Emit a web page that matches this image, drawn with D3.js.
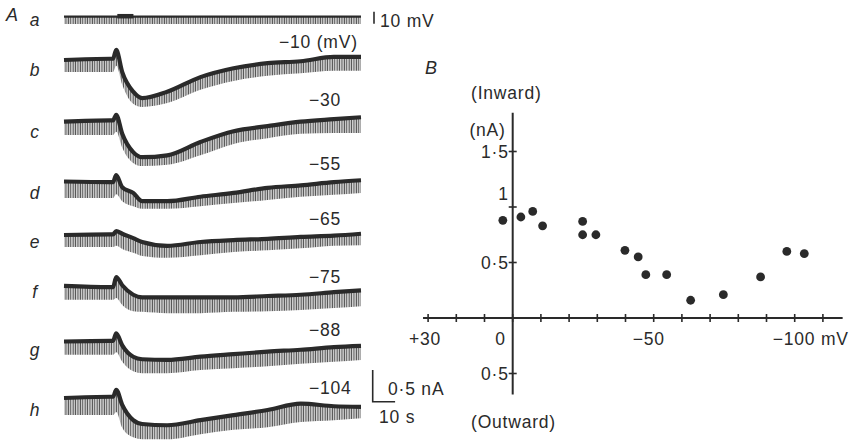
<!DOCTYPE html>
<html>
<head>
<meta charset="utf-8">
<script src="https://cdn.jsdelivr.net/npm/d3@7"></script>
<style>
  body { margin: 0; background: #fff; }
  svg text { font-family: "Liberation Sans", Arial, sans-serif; fill: #2a2a2a; letter-spacing: 0.8px; }
</style>
</head>
<body>
<div id="graphicContainer"></div>
<script>

// ---- panel A data (time in s, holding current in nA, inward = positive / downwards)

var times = [0, 20.6, 21.9, 23.3, 26.0, 30.9, 34.9, 46.1, 60.9, 75.7, 90.9, 105.7, 120.5, 132.6];

// line = holding current trace, base = bottom of the pulse responses
var traceB = {line: [0, -0.02, -0.02, -0.16, 0.19, 0.50, 0.60, 0.50, 0.27, 0.13, 0.05, 0.02, -0.05, -0.05],
              base: [0.19, 0.19, 0.19, 0.09, 0.39, 0.69, 0.74, 0.68, 0.47, 0.33, 0.25, 0.21, 0.17, 0.17]};
var traceC = {line: [0, -0.02, -0.02, -0.11, 0.19, 0.48, 0.56, 0.53, 0.32, 0.15, 0.07, 0.00, -0.04, -0.07],
              base: [0.21, 0.21, 0.21, 0.16, 0.41, 0.65, 0.70, 0.68, 0.53, 0.35, 0.26, 0.19, 0.18, 0.18]};
var traceD = {line: [0, 0.01, 0.01, -0.10, 0.09, 0.18, 0.31, 0.31, 0.24, 0.18, 0.10, 0.06, 0.01, -0.02],
              base: [0.26, 0.26, 0.26, 0.20, 0.31, 0.39, 0.43, 0.43, 0.39, 0.34, 0.29, 0.24, 0.21, 0.18]};
var traceE = {line: [0, -0.01, -0.01, -0.06, -0.02, 0.05, 0.11, 0.17, 0.11, 0.08, 0.06, 0.03, 0.01, -0.02],
              base: [0.19, 0.19, 0.19, 0.17, 0.22, 0.28, 0.33, 0.36, 0.32, 0.27, 0.24, 0.21, 0.17, 0.16]};
var traceF = {line: [-0.01, 0.01, 0.01, -0.15, -0.02, 0.13, 0.17, 0.17, 0.17, 0.17, 0.15, 0.13, 0.09, 0.06],
              base: [0.21, 0.21, 0.21, 0.18, 0.29, 0.39, 0.40, 0.42, 0.42, 0.40, 0.39, 0.37, 0.34, 0.31]};
var traceG = {line: [0, -0.01, -0.01, -0.13, 0.06, 0.24, 0.28, 0.29, 0.24, 0.20, 0.16, 0.13, 0.09, 0.07],
              base: [0.21, 0.21, 0.21, 0.17, 0.32, 0.47, 0.50, 0.50, 0.45, 0.42, 0.39, 0.35, 0.32, 0.29]};
var traceH = {line: [0, -0.02, -0.02, -0.13, 0.11, 0.35, 0.41, 0.43, 0.35, 0.27, 0.19, 0.09, 0.13, 0.14],
              base: [0.27, 0.27, 0.27, 0.22, 0.47, 0.62, 0.65, 0.65, 0.57, 0.50, 0.46, 0.38, 0.35, 0.32]};

// trace a is the voltage record (mV): hyperpolarising pulses, agonist mark
var voltTimes = [0, 132.6];
var voltLine = [0, 0];
var voltPulse = [-6, -6];
var stimulus = [23.8, 31];

var rowNames = ["a", "b", "c", "d", "e", "f", "g", "h"];
var holdingMv = [null, -10, -30, -55, -65, -75, -88, -104];

// ---- panel B data

var vm = [3.5, -2.9, -7.1, -10.6, -24.8, -24.8, -29.5, -39.8, -44.5, -47.2, -54.6, -63.1, -74.7, -87.9, -97.2, -103.4];
var inward = [0.88, 0.91, 0.96, 0.83, 0.87, 0.75, 0.75, 0.61, 0.55, 0.39, 0.39, 0.16, 0.21, 0.37, 0.60, 0.58];

var xTickValues = [30, 20, 10, 0, -10, -20, -30, -40, -50, -60, -70, -80, -90, -100, -110];
var yTickValues = [1.5, 1, 0.5, -0.5];

// ---------------------------------------------------------------

var width = 859, height = 442;
var ink = "#2a2a2a";
var fs = 17.5;

var svg = d3.select("#graphicContainer").append("svg")
	.attr("width", width)
	.attr("height", height);

// pulses drawn as a hatch of thin vertical strokes
var defs = svg.append("defs");
defs.append("pattern")
	.attr("id", "pulses")
	.attr("patternUnits", "userSpaceOnUse")
	.attr("width", 2.4)
	.attr("height", 10)
	.append("rect")
	.attr("x", 0.5)
	.attr("width", 1.3)
	.attr("height", 10)
	.attr("fill", "#4a4a4a");

// ---- panel A

var rowY = [16.7, 60, 121.7, 181.5, 235, 286.5, 341.5, 398];
var rowLabelY = [20, 70, 131.7, 193, 241.7, 291.7, 350, 410];
var mvLabelY = [42, 100, 164, 219, 277, 330, 388];

var xT = d3.scaleLinear().domain([0, 132.6]).range([64, 361]);
var yI = d3.scaleLinear().domain([0, 0.5]).range([0, 31.7]);
var yV = d3.scaleLinear().domain([0, 10]).range([0, -12]);

var traces = [traceB, traceC, traceD, traceE, traceF, traceG, traceH];

var panelA = svg.append("g");

panelA.append("text")
	.attr("x", 6).attr("y", 15)
	.attr("dominant-baseline", "central")
	.attr("font-size", 18)
	.attr("font-style", "italic")
	.text("A");

panelA.selectAll(".rowLabel")
	.data(rowNames)
	.enter()
	.append("text")
	.attr("class", "rowLabel")
	.attr("x", 35)
	.attr("y", (d, i) => rowLabelY[i])
	.attr("text-anchor", "middle")
	.attr("dominant-baseline", "central")
	.attr("font-size", fs)
	.attr("font-style", "italic")
	.text(d => d);

// voltage trace a
var gA = panelA.append("g").attr("transform", `translate(0,${rowY[0]})`);

gA.append("path")
	.datum(voltTimes.map((t, i) => ({t: t, v: voltLine[i], p: voltPulse[i]})))
	.attr("fill", "url(#pulses)")
	.attr("d", d3.area().x(d => xT(d.t)).y0(d => yV(d.v)).y1(d => yV(d.p)));

gA.append("path")
	.datum(voltTimes.map((t, i) => ({t: t, v: voltLine[i]})))
	.attr("fill", "none")
	.attr("stroke", ink)
	.attr("stroke-width", 2.2)
	.attr("d", d3.line().x(d => xT(d.t)).y(d => yV(d.v)));

gA.append("line")
	.attr("x1", xT(stimulus[0])).attr("x2", xT(stimulus[1]))
	.attr("y1", yV(0) - 0.5).attr("y2", yV(0) - 0.5)
	.attr("stroke", ink)
	.attr("stroke-width", 4.5);

// 10 mV bar
gA.append("line")
	.attr("x1", 374).attr("x2", 374)
	.attr("y1", yV(5) + 1).attr("y2", yV(-5) + 1)
	.attr("stroke", ink).attr("stroke-width", 1.6);

gA.append("text")
	.attr("x", 380).attr("y", 4)
	.attr("dominant-baseline", "central")
	.attr("font-size", fs)
	.text("10 mV");

// current traces b-h
var area = d3.area()
	.curve(d3.curveMonotoneX)
	.x(d => xT(d.t))
	.y0(d => yI(d.line))
	.y1(d => yI(d.base));

var line = d3.line()
	.curve(d3.curveMonotoneX)
	.x(d => xT(d.t))
	.y(d => yI(d.line));

traces.forEach(function(tr, k) {
	var pts = times.map((t, i) => ({t: t, line: tr.line[i], base: tr.base[i]}));
	var g = panelA.append("g").attr("transform", `translate(0,${rowY[k + 1]})`);

	g.append("path")
		.datum(pts)
		.attr("fill", "url(#pulses)")
		.attr("d", area);

	g.append("path")
		.datum(pts)
		.attr("fill", "none")
		.attr("stroke", ink)
		.attr("stroke-width", 4.2)
		.attr("stroke-linejoin", "round")
		.attr("d", line);
});

// holding potential labels
panelA.selectAll(".mvLabel")
	.data(holdingMv.slice(1))
	.enter()
	.append("text")
	.attr("class", "mvLabel")
	.attr("x", (d, i) => i == 0 ? 279 : 309)
	.attr("y", (d, i) => mvLabelY[i])
	.attr("dominant-baseline", "central")
	.attr("font-size", fs)
	.text((d, i) => "\u2212" + Math.abs(d) + (i == 0 ? " (mV)" : ""));

// scale bar 0.5 nA / 10 s
var sbX = 372.7, sbY = 401.7;
var scaleBar = panelA.append("g");
scaleBar.append("path")
	.attr("d", `M${sbX},${sbY - yI(0.5)}V${sbY}H${sbX + xT(10) - xT(0)}`)
	.attr("fill", "none")
	.attr("stroke", ink)
	.attr("stroke-width", 1.6);
scaleBar.append("text")
	.attr("x", 388).attr("y", 389)
	.attr("dominant-baseline", "central")
	.attr("font-size", fs)
	.text("0\u00b75 nA");
scaleBar.append("text")
	.attr("x", 379).attr("y", 417)
	.attr("dominant-baseline", "central")
	.attr("font-size", fs)
	.text("10 s");

// ---- panel B

var x = d3.scaleLinear().domain([0, -100]).range([512.7, 794.7]);
var y = d3.scaleLinear().domain([0, 1]).range([318, 207]);

var panelB = svg.append("g");

panelB.append("text")
	.attr("x", 425).attr("y", 68)
	.attr("dominant-baseline", "central")
	.attr("font-size", 18)
	.attr("font-style", "italic")
	.text("B");

// axes through the origin
panelB.append("line")
	.attr("x1", x(31.8)).attr("x2", x(-117))
	.attr("y1", y(0)).attr("y2", y(0))
	.attr("stroke", ink).attr("stroke-width", 2);

panelB.append("line")
	.attr("x1", x(0)).attr("x2", x(0))
	.attr("y1", y(1.85)).attr("y2", y(-0.69))
	.attr("stroke", ink).attr("stroke-width", 2);

panelB.selectAll(".xtick")
	.data(xTickValues)
	.enter()
	.append("line")
	.attr("class", "xtick")
	.attr("x1", d => x(d)).attr("x2", d => x(d))
	.attr("y1", y(0) - 4).attr("y2", y(0) + 4)
	.attr("stroke", ink).attr("stroke-width", 1.6);

panelB.selectAll(".ytick")
	.data(yTickValues)
	.enter()
	.append("line")
	.attr("class", "ytick")
	.attr("x1", x(0) - 4).attr("x2", x(0) + 4)
	.attr("y1", d => y(d)).attr("y2", d => y(d))
	.attr("stroke", ink).attr("stroke-width", 1.6);

// x labels
var xLab = panelB.append("g");
var xLabel = function(xpos, anchor, txt) {
	xLab.append("text")
		.attr("x", xpos).attr("y", 339)
		.attr("text-anchor", anchor)
		.attr("dominant-baseline", "central")
		.attr("font-size", fs)
		.text(txt);
};
xLabel(x(30) - 3, "middle", "+30");
xLabel(x(0) - 7, "end", "0");
xLabel(x(-50) - 5, "middle", "\u221250");
xLabel(x(-100) - 22, "start", "\u2212100 mV");

// y labels
var yFmt = d => Math.abs(d) == 1 ? "1" : String(Math.abs(d)).replace(".", "\u00b7");
panelB.selectAll(".ylab")
	.data(yTickValues)
	.enter()
	.append("text")
	.attr("class", "ylab")
	.attr("x", x(0) - 4)
	.attr("y", d => y(d) + (d == 1 ? -13 : 0))
	.attr("text-anchor", "end")
	.attr("dominant-baseline", "central")
	.attr("font-size", fs)
	.text(yFmt);

panelB.append("text").attr("x", x(0) - 7).attr("y", 130).attr("text-anchor", "end")
	.attr("dominant-baseline", "central").attr("font-size", fs).text("(nA)");
panelB.append("text").attr("x", 471).attr("y", 93)
	.attr("dominant-baseline", "central").attr("font-size", fs).text("(Inward)");
panelB.append("text").attr("x", 471).attr("y", 422)
	.attr("dominant-baseline", "central").attr("font-size", fs).text("(Outward)");

// points
panelB.selectAll("circle")
	.data(vm.map((v, i) => ({v: v, i: inward[i]})))
	.enter()
	.append("circle")
	.attr("cx", d => x(d.v))
	.attr("cy", d => y(d.i))
	.attr("r", 4.4)
	.attr("fill", ink);

</script>
</body>
</html>
